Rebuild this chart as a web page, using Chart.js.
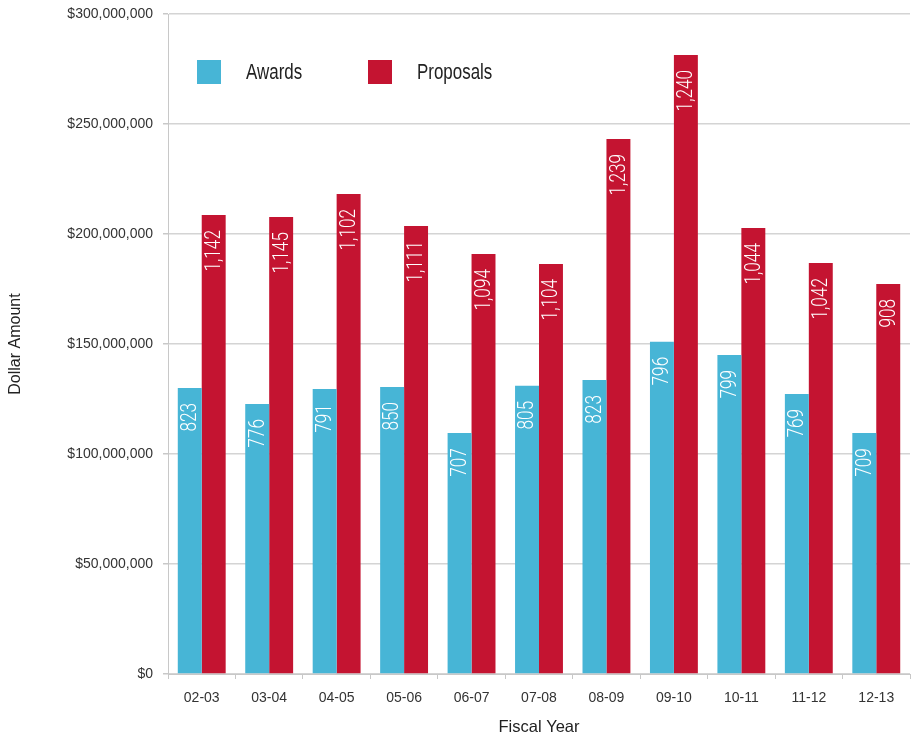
<!DOCTYPE html>
<html>
<head>
<meta charset="utf-8">
<script src="https://cdn.jsdelivr.net/npm/chart.js@4.4.1/dist/chart.umd.min.js"></script>
<style>
  html, body { margin: 0; padding: 0; background: #fff; }
  #wrap { width: 917px; height: 737px; }
</style>
</head>
<body>
<div id="wrap"><canvas id="chart"></canvas></div>
<script>
// Fiscal years and values (dollars in millions, counts shown inside bars)
const years = ['02-03', '03-04', '04-05', '05-06', '06-07', '07-08', '08-09', '09-10', '10-11', '11-12', '12-13'];
const awardDollars = [130.0, 122.7, 129.5, 130.5, 109.5, 131.0, 133.6, 151.0, 145.0, 127.3, 109.5];
const proposalDollars = [208.6, 207.7, 218.2, 203.6, 190.9, 186.4, 243.2, 281.4, 202.7, 186.8, 177.3];
const awardCounts = [823, 776, 791, 850, 707, 805, 823, 796, 799, 769, 709];
const proposalCounts = [1142, 1145, 1102, 1111, 1094, 1104, 1239, 1240, 1044, 1042, 908];
const yTicks = [0, 50, 100, 150, 200, 250, 300];

const FONT = '"Liberation Sans", Arial, sans-serif';
const BLUE = '#47b5d6';
const RED = '#c41431';

// Draw the count inside each bar, rotated, near the top (condensed look)
const barLabels = {
    id: 'barLabels',
    afterDatasetsDraw(chart) {
        const ctx = chart.ctx;
        const counts = [awardCounts, proposalCounts];
        ctx.save();
        ctx.fillStyle = '#ffffff';
        ctx.font = '300 21.5px Roboto, ' + FONT;
        ctx.textAlign = 'right';
        ctx.textBaseline = 'middle';
        chart.data.datasets.forEach((ds, i) => {
            chart.getDatasetMeta(i).data.forEach((bar, j) => {
                ctx.save();
                ctx.translate(bar.x, bar.y + 15);
                ctx.rotate(-Math.PI / 2);
                ctx.scale(0.8, 1);
                ctx.fillText(counts[i][j].toLocaleString('en-US'), 0, 1);
                ctx.restore();
            });
        });
        ctx.restore();
    }
};

// Legend drawn inside the plot area, top-left
const innerLegend = {
    id: 'innerLegend',
    afterDraw(chart) {
        const ctx = chart.ctx;
        const area = chart.chartArea;
        const starts = [area.left + 29, area.left + 200];
        ctx.save();
        ctx.font = '22px ' + FONT;
        ctx.textBaseline = 'middle';
        ctx.textAlign = 'left';
        chart.data.datasets.forEach((ds, i) => {
            const x = starts[i];
            const y = area.top + 46;
            ctx.fillStyle = ds.backgroundColor;
            ctx.fillRect(x, y, 24, 24);
            ctx.fillStyle = '#222';
            ctx.save();
            ctx.translate(x + 49, y + 13);
            ctx.scale(0.77, 1);
            ctx.fillText(ds.label, 0, 0);
            ctx.restore();
        });
        ctx.restore();
    }
};

new Chart(document.getElementById('chart'), {
    type: 'bar',
    data: {
        labels: years,
        datasets: [
            { label: 'Awards', data: awardDollars, backgroundColor: BLUE },
            { label: 'Proposals', data: proposalDollars, backgroundColor: RED }
        ]
    },
    options: {
        responsive: true,
        maintainAspectRatio: false,
        animation: false,
        layout: { padding: { top: 14, right: 7, left: 0, bottom: 0 } },
        categoryPercentage: 0.71,
        barPercentage: 1.0,
        plugins: {
            legend: { display: false },
            tooltip: { enabled: false }
        },
        scales: {
            x: {
                grid: {
                    offset: true,
                    drawOnChartArea: false,
                    drawTicks: true,
                    tickLength: 5,
                    color: '#c8c8c8'
                },
                border: { color: '#c8c8c8' },
                ticks: {
                    color: '#333',
                    font: { family: FONT, size: 14 },
                    padding: 11
                },
                title: {
                    display: true,
                    text: 'Fiscal Year',
                    color: '#222',
                    font: { family: FONT, size: 16.5 },
                    padding: { top: 0, bottom: 0 }
                },
                afterFit(scale) { scale.height = 63; }
            },
            y: {
                min: 0,
                max: 300,
                afterBuildTicks(scale) {
                    scale.ticks = yTicks.map(v => ({ value: v }));
                },
                grid: {
                    color: '#d4d4d4',
                    lineWidth: 1.5,
                    tickLength: 5,
                    tickColor: '#c8c8c8'
                },
                border: { color: '#c8c8c8' },
                ticks: {
                    color: '#333',
                    font: { family: FONT, size: 14 },
                    padding: 10,
                    callback: v => '$' + (v * 1000000).toLocaleString('en-US')
                },
                title: {
                    display: true,
                    text: 'Dollar Amount',
                    color: '#222',
                    font: { family: FONT, size: 16 },
                    padding: { top: 6, bottom: 0 }
                },
                afterFit(scale) {
                    scale.width = 168;
                    scale.paddingTop = 0;
                    scale.paddingBottom = 0;
                }
            }
        }
    },
    plugins: [barLabels, innerLegend]
});
</script>
</body>
</html>
